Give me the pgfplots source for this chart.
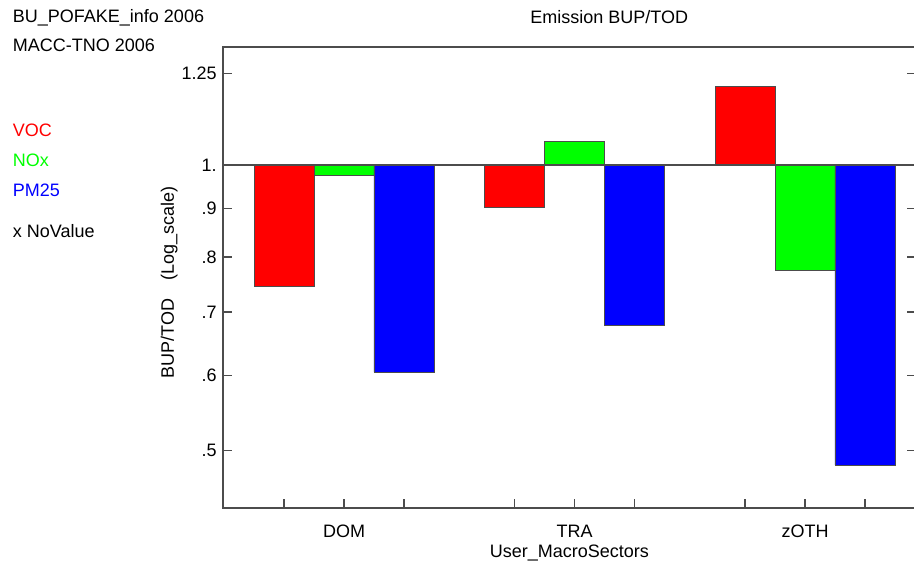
\documentclass[border=0pt]{standalone}
\usepackage{pgfplots}
\pgfplotsset{compat=1.18}
\usepackage{fontspec}
\setmainfont{Liberation Sans}
\begin{document}
\fontsize{13.5}{16}\selectfont
\begin{tikzpicture}
\path[use as bounding box] (0,0) rectangle (685.5pt,423pt);
\begin{axis}[at={(167.25pt,42pt)},anchor=south west,scale only axis,
 width=520pt,height=345.75pt,
 ymode=log, ymin=0.435, ymax=1.332, xmin=-0.525, xmax=2.483,
 axis line style={black!70,line width=0.9pt},
 tick style={black!70,line width=0.9pt},
 xtick={0,1,2}, xticklabels={DOM,TRA,zOTH},
 minor xtick={-0.26,0.26,0.74,1.26,1.74,2.26},
 xtick pos=bottom, xtick align=inside, major tick length=7pt, minor tick length=7pt,
 ytick={0.5,0.6,0.7,0.8,0.9,1,1.25}, yticklabels={.5,.6,.7,.8,.9,1.,1.25},
 ytick pos=both, yticklabel pos=left, ytick align=inside,
 yminorticks=false,
 tick label style={font=\fontsize{13.5}{16}\selectfont},
 xticklabel style={yshift=-8pt},
 /pgf/number format/assume math mode=true,
 bar width=0.26, log origin=0,
 clip=false]
\addplot[ybar,bar shift=0,fill=red,draw=black!70] coordinates {(-0.26,0.745)(0.74,0.903)(1.74,1.21)};
\addplot[ybar,bar shift=0,fill=green,draw=black!70] coordinates {(0,0.976)(1,1.06)(2,0.775)};
\addplot[ybar,bar shift=0,fill=blue,draw=black!70] coordinates {(0.26,0.605)(1.26,0.678)(2.26,0.483)};
\addplot[black!70,line width=0.9pt] coordinates {(-0.525,1)(2.483,1)};
\end{axis}
\node[anchor=west] at (5pt,410pt) {BU\_POFAKE\_info 2006};
\node[anchor=west] at (5pt,389pt) {MACC-TNO 2006};
\node[anchor=center] at (457pt,410pt) {Emission BUP/TOD};
\node[anchor=west,text=red] at (5pt,325pt) {VOC};
\node[anchor=west,text=green] at (5pt,303pt) {NOx};
\node[anchor=west,text=blue] at (5pt,280pt) {PM25};
\node[anchor=west] at (5pt,250pt) {x NoValue};
\node[rotate=90] at (127pt,211pt) {BUP/TOD\quad (Log\_scale)};
\node at (427pt,8pt) {User\_MacroSectors};
\end{tikzpicture}
\end{document}
